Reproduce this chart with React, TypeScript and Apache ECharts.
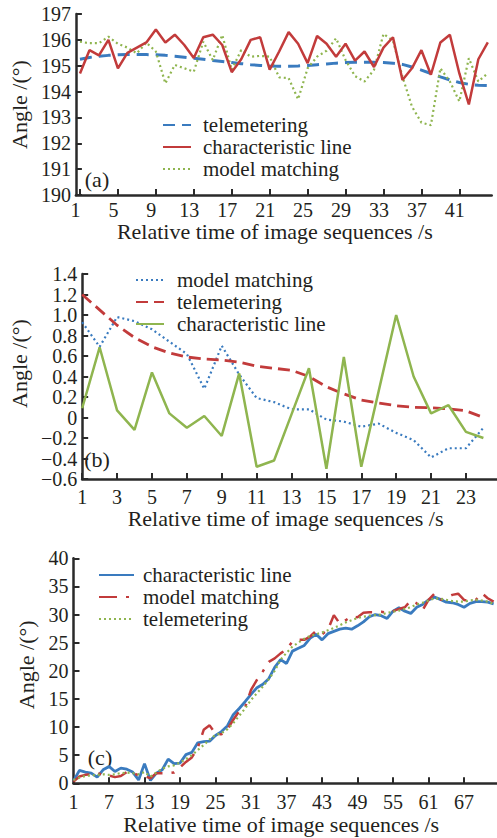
import React, { useEffect, useRef } from 'react';
import * as echarts from 'echarts';

const FONT = 'Liberation Serif';
const TEXT = '#231f20';
const AXIS = '#2a2a2a';
const BLUE = '#3a7bbf';
const RED = '#c23b3b';
const GREEN = '#8fb54f';

const X_NAME = 'Relative time of image sequences /s';
const Y_NAME = 'Angle /(°)';

// ---------- panel (a) ----------
const A_X_TICKS = [1, 5, 9, 13, 17, 21, 25, 29, 33, 37, 41];
const A_TELEMETERING = [195.25, 195.32, 195.37, 195.4, 195.42, 195.43, 195.43, 195.43, 195.42, 195.4, 195.37, 195.33, 195.29, 195.25, 195.2, 195.16, 195.12, 195.08, 195.04, 195.01, 194.99, 194.98, 194.98, 194.99, 195.01, 195.04, 195.07, 195.1, 195.12, 195.13, 195.13, 195.13, 195.12, 195.1, 195.05, 194.95, 194.83, 194.7, 194.57, 194.45, 194.35, 194.28, 194.24, 194.23];
const A_CHARACTERISTIC = [194.7, 195.6, 195.4, 196.0, 194.9, 195.5, 195.7, 195.9, 196.4, 195.9, 196.2, 195.8, 195.3, 196.1, 196.2, 195.8, 194.75, 195.25, 196.0, 196.1, 194.85, 195.55, 196.3, 195.85, 195.1, 196.15, 195.85, 195.35, 195.85, 195.2, 195.55, 194.95, 195.7, 196.1, 194.45, 194.9, 195.6, 194.65, 195.9, 196.2, 194.7, 193.5, 195.25, 195.9];
const A_MODEL = [195.93, 195.87, 195.87, 196.12, 195.85, 195.7, 195.48, 195.89, 195.55, 194.32, 195.03, 194.9, 194.77, 195.93, 195.22, 196.19, 194.84, 195.61, 195.35, 195.38, 195.35, 194.55, 194.52, 193.7, 194.9, 195.35, 195.58, 196.06, 195.22, 194.6, 194.39, 194.84, 196.23, 195.97, 194.58, 193.42, 192.8, 192.7, 194.9, 194.39, 193.62, 195.29, 194.39, 194.71];

// ---------- panel (b) ----------
const B_X_TICKS = [1, 3, 5, 7, 9, 11, 13, 15, 17, 19, 21, 23];
const B_MODEL = [0.93, 0.69, 0.98, 0.94, 0.86, 0.74, 0.62, 0.28, 0.7, 0.42, 0.19, 0.15, 0.08, 0.08, -0.02, -0.04, -0.09, -0.06, -0.15, -0.22, -0.39, -0.3, -0.3, -0.1];
const B_TELEMETERING = [1.2, 1.05, 0.9, 0.78, 0.69, 0.63, 0.59, 0.57, 0.56, 0.54, 0.5, 0.48, 0.46, 0.4, 0.3, 0.23, 0.17, 0.14, 0.115, 0.1, 0.095, 0.085, 0.065, 0.0];
const B_CHARACTERISTIC = [0.09, 0.685, 0.07, -0.12, 0.44, 0.04, -0.1, 0.015, -0.18, 0.43, -0.48, -0.42, 0.03, 0.48, -0.5, 0.59, -0.48, 0.26, 1.0, 0.4, 0.04, 0.12, -0.14, -0.2];

// ---------- panel (c) ----------
const C_X_TICKS = [1, 7, 13, 19, 25, 31, 37, 43, 49, 55, 61, 67];
const C_CHARACTERISTIC = [0.4, 2.3, 2.0, 1.8, 1.1, 2.4, 3.0, 2.1, 2.7, 2.5, 2.0, 0.6, 3.5, 0.5, 1.8, 2.4, 4.3, 3.5, 3.6, 5.1, 5.5, 7.2, 7.4, 7.5, 8.5, 9.2, 10.2, 12.2, 13.3, 14.5, 15.8, 17.0, 17.6, 18.6, 20.6, 22.0, 21.3, 23.5, 24.0, 24.5, 25.8, 26.5, 25.5, 26.6, 27.0, 27.4, 27.6, 27.4, 28.0, 28.7, 29.6, 30.0, 29.8, 29.3, 30.6, 31.2, 30.6, 30.2, 31.3, 31.8, 32.6, 33.1, 32.7, 32.2, 32.1, 31.8, 31.3, 32.0, 32.3, 32.3, 32.2, 31.9];
const C_MODEL = [0.3, 1.2, 1.5, 1.6, 1.8, 1.5, 1.4, 1.1, 1.3, 2.0, 1.9, 1.4, 1.3, 0.9, 1.8, 1.8, 1.8, 1.9, 2.8, 3.8, 4.6, 6.3, 9.5, 10.3, 8.8, 8.7, 9.6, 11.3, 12.8, 13.5, 16.6, 18.4, 19.9, 21.6, 22.2, 23.1, 23.8, 25.2, 25.5, 25.5, 26.1, 27.1, 26.5, 27.3, 29.9, 28.4, 29.0, 29.7, 29.5, 30.3, 30.4, 30.4, 30.5, 30.3, 30.6, 31.0, 31.3, 32.5, 32.0, 30.8, 32.6, 33.7, 32.6, 33.0, 33.5, 33.7, 32.6, 32.5, 32.6, 33.8, 32.9, 32.3];
const C_TELEMETERING = [0.6, 1.0, 1.3, 1.4, 1.5, 1.6, 1.5, 1.6, 1.8, 1.9, 1.8, 1.6, 2.0, 1.2, 1.9, 2.6, 3.0, 3.2, 3.7, 4.3, 5.0, 5.9, 6.8, 7.8, 8.6, 8.9, 9.6, 10.7, 12.0, 13.3, 14.8, 16.0, 17.2, 18.5, 20.0, 22.0, 23.2, 24.3, 25.0, 25.7, 26.2, 26.5, 26.8, 27.2, 27.6, 28.1, 28.6, 29.0, 29.4, 29.6, 29.8, 29.9, 30.0, 30.3, 30.5, 30.7, 31.0, 31.3, 31.8, 32.1, 32.5, 32.9, 32.8, 32.6, 32.4, 32.3, 32.3, 32.5, 32.6, 32.5, 32.3, 31.9];

const pts = (arr: number[]) => arr.map((v, i) => [i + 1, v]);

function xAxis(gi: number, min: number, max: number, ticks: number[], labelPad: number[], nameGap: number, namePad: number[], labelMargin: number) {
  return {
    type: 'value', gridIndex: gi, min, max,
    name: X_NAME, nameLocation: 'middle', nameGap,
    nameTextStyle: { fontFamily: FONT, fontSize: 22, color: TEXT, padding: namePad },
    axisLine: { show: true, onZero: false, lineStyle: { color: AXIS, width: 2.5 } },
    axisTick: { show: true, inside: true, length: 6, lineStyle: { color: AXIS, width: 2 }, customValues: ticks },
    axisLabel: { show: true, customValues: ticks, fontFamily: FONT, fontSize: 20, color: TEXT, margin: labelMargin, padding: labelPad },
    splitLine: { show: false },
  };
}

function yAxis(gi: number, min: number, max: number, interval: number, nameGap: number, namePad: number[], fmt: (v: number) => string) {
  return {
    type: 'value', gridIndex: gi, min, max, interval,
    name: Y_NAME, nameLocation: 'middle', nameGap, nameRotate: 90,
    nameTextStyle: { fontFamily: FONT, fontSize: 22, color: TEXT, padding: namePad },
    axisLine: { show: true, onZero: false, lineStyle: { color: AXIS, width: 2.5 } },
    axisTick: { show: true, inside: true, length: 6, lineStyle: { color: AXIS, width: 2 } },
    axisLabel: { show: true, fontFamily: FONT, fontSize: 20, color: TEXT, margin: 5, formatter: fmt },
    splitLine: { show: false },
  };
}

function line(name: string, data: number[], gi: number, color: string, width: number, type: any, z = 2) {
  return {
    type: 'line', name, xAxisIndex: gi, yAxisIndex: gi, data: pts(data),
    symbol: 'none', showSymbol: false, z,
    lineStyle: { color, width, type, cap: 'butt' },
    itemStyle: { color },
  };
}

function legend(names: string[], left: number, top: number, itemWidth: number, textGap: number) {
  return {
    data: names, orient: 'vertical', left, top, itemWidth, itemHeight: 10, itemGap: 0, padding: 0,
    formatter: (n: string) => n.trim(),
    itemStyle: { opacity: 0 },
    textStyle: { fontFamily: FONT, fontSize: 21, color: TEXT, lineHeight: 22, padding: [0, 0, 0, textGap] },
    selectedMode: false,
  };
}

const fmtInt = (v: number) => String(Math.round(v));
const fmtB = (v: number) => {
  if (Math.abs(v) < 1e-9) return '0';
  const s = Math.abs(v).toFixed(1);
  return v < 0 ? '\u2212' + s : s;
};

export default function App() {
  const ref = useRef<HTMLDivElement>(null);
  useEffect(() => {
    if (!ref.current) return;
    const chart = echarts.init(ref.current, undefined, { renderer: 'svg' });
    const option: any = {
      animation: false,
      backgroundColor: '#ffffff',
      textStyle: { fontFamily: FONT },
      grid: [
        { left: 73.5, top: 14, width: 418.2, height: 181 },
        { left: 73, top: 274, width: 424, height: 205 },
        { left: 73.5, top: 558.3, width: 423.5, height: 225 },
      ],
      xAxis: [
        xAxis(0, 0.57, 44.41, A_X_TICKS, [0, 9, 0, 0], 25, [0, 18, 0, 0], 5),
        xAxis(1, 1, 24.78, B_X_TICKS, [0, 0, 0, 0], 28, [0, 8, 0, 0], 8),
        xAxis(2, 1, 72.57, C_X_TICKS, [0, 0, 0, 0], 28, [0, 8, 0, 0], 9),
      ],
      yAxis: [
        yAxis(0, 190, 197, 1, 40, [0, 0, 0, 0], fmtInt),
        yAxis(1, -0.6, 1.4, 0.2, 50, [0, 0, 0, 26], fmtB),
        yAxis(2, 0, 40, 5, 31, [0, 0, 0, 12], fmtInt),
      ],
      legend: [
        legend(['telemetering', 'characteristic line', 'model matching'], 162, 114, 28, 7),
        legend(['model matching ', 'telemetering ', 'characteristic line '], 135, 269, 28, 8),
        legend(['characteristic line  ', 'model matching  ', 'telemetering  '], 98, 564, 35, 4),
      ],
      series: [
        line('telemetering', A_TELEMETERING, 0, BLUE, 3, [12, 7]),
        line('characteristic line', A_CHARACTERISTIC, 0, RED, 2.5, 'solid', 3),
        line('model matching', A_MODEL, 0, GREEN, 2.2, [2, 3]),
        line('model matching ', B_MODEL, 1, BLUE, 2.2, [2, 3]),
        line('telemetering ', B_TELEMETERING, 1, RED, 2.8, [12, 6]),
        line('characteristic line ', B_CHARACTERISTIC, 1, GREEN, 2.5, 'solid', 3),
        line('characteristic line  ', C_CHARACTERISTIC, 2, BLUE, 2.8, 'solid', 2),
        line('model matching  ', C_MODEL, 2, RED, 2.5, [18, 9, 3, 9], 3),
        line('telemetering  ', C_TELEMETERING, 2, GREEN, 2.2, [2, 3], 4),
      ],
      graphic: [
        { type: 'text', x: 97, y: 179, style: { text: '(a)', fontFamily: FONT, fontSize: 22, fill: TEXT, align: 'center', verticalAlign: 'middle' } },
        { type: 'text', x: 97, y: 459, style: { text: '(b)', fontFamily: FONT, fontSize: 22, fill: TEXT, align: 'center', verticalAlign: 'middle' } },
        { type: 'text', x: 100, y: 757, style: { text: '(c)', fontFamily: FONT, fontSize: 22, fill: TEXT, align: 'center', verticalAlign: 'middle' } },
      ],
    };
    chart.setOption(option);
    return () => chart.dispose();
  }, []);
  return <div ref={ref} style={{ position: 'fixed', left: 0, top: 0, width: 497, height: 838, background: '#fff' }} />;
}
